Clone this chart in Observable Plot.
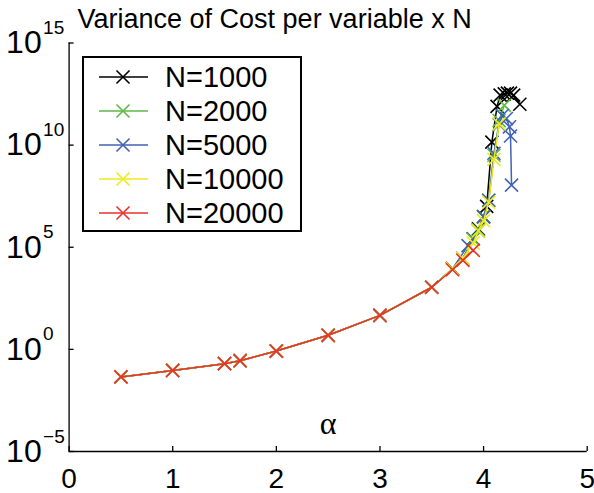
<!DOCTYPE html>
<html><head><meta charset="utf-8">
<script src="https://cdn.jsdelivr.net/npm/d3@7"></script>
<script src="https://cdn.jsdelivr.net/npm/@observablehq/plot@0.6"></script>
<style>html,body{margin:0;padding:0;background:#fff} svg{display:block}</style>
</head><body><div id="chart"></div>
<script>
const titleText = "Variance of Cost per variable x N";
const xLabel = "α";
const seriesNames = ["N=1000", "N=2000", "N=5000", "N=10000", "N=20000"];
const seriesColors = ["#000000", "#5cb946", "#4262b2", "#eeea1e", "#e8322a"];

const alpha1000 = [0.5,1,1.5,1.65,2,2.5,3,3.5,3.7,3.8,3.9,3.95,4.0,4.03,4.08,4.13,4.16,4.2,4.23,4.26,4.29,4.35];
const var1000   = [4.5e-2,9.3e-2,2.0e-1,2.8e-1,8.3e-1,4.9,46,1.1e3,8.9e3,2.8e4,2.6e5,7.9e5,3.2e6,1.0e7,1.4e10,7.9e11,2.8e12,3.2e12,3.5e12,3.5e12,2.8e12,1.0e12];

const alpha2000 = [0.5,1,1.5,1.65,2,2.5,3,3.5,3.7,3.8,3.9,3.95,4.0,4.05,4.1,4.15,4.2];
const var2000   = [4.5e-2,9.3e-2,2.0e-1,2.8e-1,8.3e-1,4.9,46,1.1e3,8.9e3,2.8e4,2.5e5,7.1e5,3.2e6,2.0e7,3.2e9,1.6e11,8.9e11];

const alpha5000 = [0.5,1,1.5,1.65,2,2.5,3,3.5,3.7,3.85,3.95,4.0,4.05,4.1,4.15,4.18,4.22,4.25,4.26,4.27];
const var5000   = [4.5e-2,9.3e-2,2.0e-1,2.8e-1,8.3e-1,4.9,46,1.1e3,8.9e3,1.2e5,6.3e5,3.0e6,2.0e7,4.0e9,1.0e11,2.8e11,2.0e11,7.9e10,2.8e10,1.1e8];

const alpha10000 = [0.5,1,1.5,1.65,2,2.5,3,3.5,3.7,3.8,3.9,3.95,4.0,4.05,4.1,4.15];
const var10000   = [4.5e-2,9.3e-2,2.0e-1,2.8e-1,8.3e-1,4.9,46,1.1e3,8.9e3,2.8e4,1.6e5,6.3e5,2.0e6,1.6e7,2.0e9,1.1e11];

const alpha20000 = [0.5,1,1.5,1.65,2,2.5,3,3.5,3.7,3.8,3.9];
const var20000   = [4.5e-2,9.3e-2,2.0e-1,2.8e-1,8.3e-1,4.9,46,1.1e3,7.9e3,2.3e4,7.1e4];

const xTicks = [0,1,2,3,4,5];
const yTicks = [1e-5,1e0,1e5,1e10,1e15];
const yTickBase = ["10","10","10","10","10"];
const yTickExp = ["−5","0","5","10","15"];

const alphas = [alpha1000, alpha2000, alpha5000, alpha10000, alpha20000];
const vars = [var1000, var2000, var5000, var10000, var20000];
const series = seriesNames.map((name, i) => alphas[i].map((a, j) => ({N: name, alpha: a, value: vars[i][j]})));

const font = "'Liberation Sans', Arial, Helvetica, sans-serif";
const yt = yTicks.map((v, i) => ({v, base: yTickBase[i], exp: yTickExp[i]}));

const chart = Plot.plot({
  width: 594, height: 493,
  marginLeft: 68.6, marginRight: 7.3, marginTop: 42.5, marginBottom: 42,
  style: {fontFamily: font, background: "#fff", color: "#000", overflow: "visible"},
  x: {domain: [0, 5]},
  y: {type: "log", domain: [1e-5, 1e15]},
  color: {domain: seriesNames, range: seriesColors},
  marks: [
    Plot.ruleX([0], {stroke: "#000", strokeWidth: 1.3}),
    Plot.ruleY([1e-5], {stroke: "#000", strokeWidth: 1.3}),
    Plot.axisX({ticks: xTicks, tickSize: -5, tickPadding: 22, fontSize: 28, label: null, tickFormat: d => String(d), strokeWidth: 1.3}),
    Plot.axisY({ticks: yTicks, tickSize: -5, tickFormat: () => "", label: null, strokeWidth: 1.3}),
    Plot.text(yt, {y: "v", text: "base", frameAnchor: "left", textAnchor: "start", dx: -63, fontSize: 32}),
    Plot.text(yt, {y: "v", text: "exp", frameAnchor: "left", textAnchor: "start", dx: -26, dy: -15, fontSize: 19}),
    ...series.flatMap(s => [
      Plot.line(s, {x: "alpha", y: "value", stroke: "N", strokeWidth: 1.5}),
      Plot.dot(s, {x: "alpha", y: "value", stroke: "N", symbol: "times", r: 6, strokeWidth: 1.6})
    ]),
    Plot.text([titleText], {frameAnchor: "top-left", textAnchor: "start", lineAnchor: "bottom", dx: 8.4, dy: -15.5, fontSize: 27}),
    Plot.text([xLabel], {frameAnchor: "bottom", lineAnchor: "bottom", dy: -18, fontSize: 32, fontFamily: "'Liberation Serif', 'DejaVu Serif', serif"})
  ]
});

document.getElementById("chart").appendChild(chart);

// legend
const svg = d3.select(chart);
const lg = svg.append("g").attr("font-family", font).attr("text-anchor", "start");
lg.append("rect").attr("x", 83).attr("y", 57).attr("width", 218).attr("height", 174)
  .attr("fill", "#fff").attr("stroke", "#000").attr("stroke-width", 2);
const sym = d3.symbol(d3.symbolTimes, Math.PI * 36)();
seriesNames.forEach((name, i) => {
  const cy = 77 + i * 34;
  const col = seriesColors[i];
  lg.append("line").attr("x1", 99).attr("x2", 148).attr("y1", cy).attr("y2", cy)
    .attr("stroke", col).attr("stroke-width", 1.6);
  lg.append("path").attr("d", sym).attr("transform", `translate(123,${cy})`)
    .attr("fill", "none").attr("stroke", col).attr("stroke-width", 1.6);
  lg.append("text").attr("x", 165).attr("y", cy + 10).attr("font-size", 29)
    .attr("text-anchor", "start").attr("fill", "#000").text(name);
});
</script>
</body></html>
